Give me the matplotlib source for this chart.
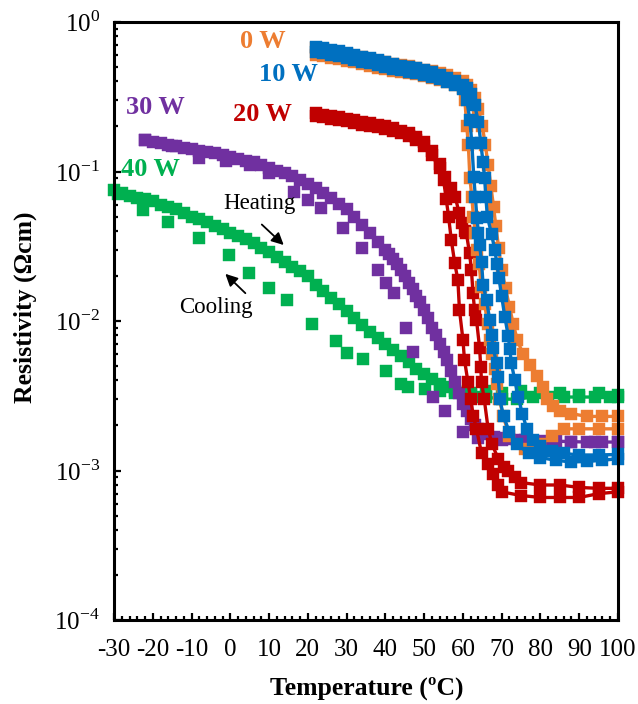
import matplotlib
matplotlib.use("Agg")
import matplotlib.pyplot as plt

plt.rcParams['font.family'] = ['Liberation Serif', 'DejaVu Serif']
plt.rcParams['mathtext.fontset'] = 'custom'
plt.rcParams['mathtext.rm'] = 'Liberation Serif'
plt.rcParams['axes.unicode_minus'] = False

# ---------------- data (temperature in degC, resistivity in Ohm cm) ----------------
# 0 W
w0_heat_T = [22, 24, 26, 28, 30, 32, 34, 36, 38, 40, 42, 44, 46, 48, 50, 52, 54, 56, 58, 60, 61, 62, 63, 64,
             65, 65.8, 66.5, 67.2, 67.9, 68.5, 69.2, 70, 71, 72, 73, 74, 75.5, 77.2, 79, 80.6, 81.8, 83.2,
             85, 88, 92, 96, 100]
w0_heat_R = [0.665, 0.655, 0.64, 0.625, 0.61, 0.595, 0.58, 0.565, 0.55, 0.54, 0.525, 0.515, 0.505, 0.495,
             0.48, 0.47, 0.455, 0.44, 0.42, 0.40, 0.38, 0.35, 0.31, 0.26, 0.20, 0.15, 0.11, 0.08, 0.058,
             0.043, 0.031, 0.022, 0.0165, 0.0125, 0.0095, 0.0075, 0.006, 0.0051, 0.0043, 0.0036, 0.0030,
             0.0027, 0.0025, 0.0024, 0.0023, 0.0023, 0.0023]
w0_cool_T = [22, 24, 26, 28, 30, 32, 34, 36, 38, 40, 42, 44, 46, 48, 50, 52, 54, 56, 58,
             60, 60.5, 61, 61.4, 61.8, 62.3, 62.7, 63.2, 63.7, 64.2, 64.7, 65.6, 66.4, 67, 67.5, 68.3, 68.8,
             69.4, 70.4, 72, 76, 80, 83, 86, 90, 95, 100]
w0_cool_R = [0.599, 0.590, 0.576, 0.563, 0.549, 0.536, 0.522, 0.509, 0.495, 0.486, 0.473, 0.464, 0.455,
             0.446, 0.432, 0.423, 0.410, 0.396, 0.378,
             0.36, 0.30, 0.20, 0.15, 0.09, 0.068, 0.05, 0.039, 0.03, 0.024, 0.017, 0.013, 0.0095, 0.0075,
             0.006, 0.0048, 0.0038, 0.003, 0.0023, 0.0017, 0.0014, 0.0015, 0.0017, 0.0019, 0.0019, 0.0019,
             0.0019]

# 10 W
w10_heat_T = [22, 24, 26, 28, 30, 32, 34, 36, 38, 40, 42, 44, 46, 48, 50, 52, 54, 56, 58, 60, 61, 62, 63, 64,
              64.6, 65.2, 65.6, 65.9, 66.3, 67.4, 68.2, 68.8, 69.3, 70.0, 70.8, 71.7, 72.1, 72.5, 73.4,
              74.3, 75.3, 76.5, 78, 80, 83, 86, 90, 95, 100]
w10_heat_R = [0.68, 0.665, 0.65, 0.635, 0.62, 0.60, 0.585, 0.57, 0.555, 0.54, 0.525, 0.51, 0.50, 0.49,
              0.475, 0.46, 0.445, 0.425, 0.405, 0.38, 0.36, 0.33, 0.28, 0.215, 0.155, 0.115, 0.09, 0.068,
              0.05, 0.038, 0.030, 0.024, 0.0193, 0.0146, 0.0107, 0.0079, 0.0065, 0.0052, 0.0040, 0.0031,
              0.0024, 0.0019, 0.0016, 0.00145, 0.00135, 0.0013, 0.00127, 0.00127, 0.00128]
w10_cool_T = [22, 24, 26, 28, 30, 32, 34, 36, 38, 40, 42, 44, 46, 48, 50, 52, 54, 56, 58,
              60, 61, 61.8, 62.3, 62.8, 63.2, 63.6, 64.0, 64.3, 64.8, 65.2, 66.1, 66.9, 67.4, 67.8, 68.7,
              69.1, 69.5, 70.5, 72, 74, 77, 80, 84, 88, 92, 96, 100]
w10_cool_R = [0.632, 0.618, 0.605, 0.591, 0.577, 0.558, 0.544, 0.530, 0.516, 0.502, 0.488, 0.474, 0.465,
              0.456, 0.442, 0.428, 0.414, 0.395, 0.377,
              0.355, 0.30, 0.22, 0.154, 0.092, 0.068, 0.049, 0.039, 0.032, 0.025, 0.0174, 0.0138, 0.0102,
              0.0081, 0.0066, 0.0052, 0.0042, 0.0030, 0.0023, 0.0018, 0.0015, 0.0013, 0.00122, 0.00117,
              0.00114, 0.00115, 0.00117, 0.0012]

# 20 W
w20_heat_T = [22, 24, 26, 28, 30, 32, 34, 36, 38, 40, 42, 44, 46, 48, 50, 52, 54, 55.5, 57, 58, 59, 59.7,
              60.5, 60.9, 61.7, 62.2, 62.6, 63.0, 63.5, 64.3, 64.6, 64.8, 65.5, 66.5, 67.5, 69.1, 70.5,
              71.7, 73.5, 75, 80, 85, 90, 95, 100]
w20_heat_R = [0.245, 0.24, 0.235, 0.23, 0.225, 0.22, 0.215, 0.21, 0.205, 0.20, 0.195, 0.188, 0.18, 0.17,
              0.157, 0.137, 0.112, 0.092, 0.078, 0.068, 0.053, 0.045, 0.040, 0.0386, 0.0284, 0.0219,
              0.0153, 0.0119, 0.0102, 0.0066, 0.0049, 0.0039, 0.0030, 0.0019, 0.0015, 0.0012, 0.00105,
              0.00099, 0.0009, 0.00083, 0.0008, 0.0008, 0.00077, 0.00076, 0.00076]
w20_cool_T = [22, 24, 26, 28, 30, 32, 34, 36, 38, 40, 42, 44, 46, 48,
              50, 52, 54, 55, 55.7, 56.3, 57.0, 57.9, 58.7, 59.1, 60.0, 60.4, 61.3, 62, 62.7, 63.5, 64.8,
              66.5, 67.8, 69, 70, 75, 80, 85, 90, 95, 100]
w20_cool_R = [0.235, 0.230, 0.226, 0.221, 0.216, 0.211, 0.206, 0.202, 0.197, 0.192, 0.187, 0.180, 0.173,
              0.163,
              0.148, 0.128, 0.105, 0.088, 0.065, 0.05, 0.0348, 0.0243, 0.0188, 0.0119, 0.0075, 0.0055,
              0.0039, 0.0030, 0.0023, 0.0019, 0.0013, 0.0011, 0.00095, 0.0008, 0.00072, 0.00068, 0.00066,
              0.00066, 0.00066, 0.0007, 0.00072]

# 30 W
w30_heat_T = [-22, -20, -18, -16, -14, -12, -10, -8, -6, -4, -2, 0, 2, 4, 6, 8, 10, 12, 14, 16, 18, 20, 22,
              24, 26, 28, 30, 32, 34, 36, 38, 40, 41, 42, 43, 44, 45, 46, 47, 48, 49, 50, 51, 52, 53, 54,
              55, 56, 57, 58, 59, 60, 61, 62, 63, 64, 66, 68, 70, 72, 74, 76, 80, 84, 88, 92, 96, 100]
w30_heat_R = [0.163, 0.158, 0.154, 0.150, 0.147, 0.144, 0.141, 0.138, 0.135, 0.132, 0.128, 0.125, 0.121,
              0.118, 0.115, 0.111, 0.106, 0.101, 0.097, 0.093, 0.088, 0.082, 0.077, 0.072, 0.066, 0.061,
              0.056, 0.050, 0.044, 0.039, 0.034, 0.030, 0.028, 0.026, 0.024, 0.022, 0.020, 0.018, 0.0163,
              0.0148, 0.0133, 0.0118, 0.0104, 0.0090, 0.0080, 0.0070, 0.0062, 0.0055, 0.0046, 0.0039,
              0.0033, 0.0028, 0.0025, 0.0022, 0.0020, 0.0019, 0.00175, 0.00168, 0.00164, 0.00162,
              0.0016, 0.00159, 0.00158, 0.00157, 0.00156, 0.00155, 0.00155, 0.00155]
w30_cool_T = [-22, -15, -8, -1, 5, 10, 16.3, 20, 23.5, 29, 34, 38, 40.2, 42.3, 45.3, 47.1, 52.3, 55.3, 60,
              64, 70, 76, 82, 88, 94, 100]
w30_cool_R = [0.163, 0.148, 0.124, 0.118, 0.110, 0.098, 0.073, 0.064, 0.057, 0.042, 0.031, 0.022, 0.018,
              0.0153, 0.0090, 0.0062, 0.0031, 0.0025, 0.0018, 0.00165, 0.0016, 0.00158, 0.00156, 0.00155,
              0.00155, 0.00155]

# 40 W
w40_heat_T = [-30, -28, -26, -24, -22, -20, -18, -16, -14, -12, -10, -8, -6, -4, -2, 0, 2, 4, 6, 8, 10, 12,
              14, 16, 18, 20, 22, 24, 26, 28, 30, 32, 34, 36, 38, 40, 42, 44, 46, 48, 50, 52, 54, 56, 58,
              60, 62, 64, 66, 70, 74, 78, 82, 86, 90, 94, 98, 100]
w40_heat_R = [0.075, 0.072, 0.069, 0.067, 0.065, 0.063, 0.060, 0.058, 0.056, 0.053, 0.050, 0.048, 0.046,
              0.043, 0.041, 0.039, 0.037, 0.0355, 0.033, 0.031, 0.029, 0.027, 0.025, 0.023, 0.0215, 0.020,
              0.0175, 0.0158, 0.0143, 0.0130, 0.0117, 0.0105, 0.0094, 0.0085, 0.0077, 0.0070, 0.0064,
              0.0058, 0.0053, 0.0048, 0.0044, 0.0041, 0.0038, 0.0036, 0.0034, 0.0033, 0.0032, 0.0031,
              0.0031, 0.0030, 0.0030, 0.0031, 0.0031, 0.0031, 0.0031, 0.0031, 0.0031, 0.0031]
w40_cool_T = [-29, -22.4, -16, -8.2, -0.4, 4.8, 10, 14.7, 21.2, 27.2, 30.2, 34.1, 40.2, 44.1, 45.8, 50.1,
              54, 58, 62, 66, 70, 75, 80, 85, 90, 95, 100]
w40_cool_R = [0.071, 0.055, 0.046, 0.0357, 0.0276, 0.0208, 0.0166, 0.0138, 0.0095, 0.0073, 0.0061, 0.0056,
              0.0046, 0.0038, 0.0036, 0.0035, 0.0034, 0.0033, 0.0033, 0.0034, 0.0033, 0.0034, 0.0033,
              0.0033, 0.0032, 0.0033, 0.0032]

labels = ["0 W", "10 W", "20 W", "30 W", "40 W"]
colors = ["#ED7D31", "#0070C0", "#C00000", "#7030A0", "#00B050"]
x_ticks = [-30, -20, -10, 0, 10, 20, 30, 40, 50, 60, 70, 80, 90, 100]
y_ticks = [1e-4, 1e-3, 1e-2, 1e-1, 1e0]
y_ticklabels = ["10$^{-4}$", "10$^{-3}$", "10$^{-2}$", "10$^{-1}$", "10$^{0}$"]

# ---------------- figure ----------------
fig = plt.figure(figsize=(6.38, 7.04), dpi=100)
W, H = 638, 704
ax = fig.add_axes([114 / W, 1 - 620 / H, 504 / W, 598 / H])

ms = 9.0
series = [
    (w40_heat_T, w40_heat_R, w40_cool_T, w40_cool_R, colors[4], 2, False),
    (w30_heat_T, w30_heat_R, w30_cool_T, w30_cool_R, colors[3], 3, False),
    (w20_heat_T, w20_heat_R, w20_cool_T, w20_cool_R, colors[2], 4, True),
    (w0_heat_T, w0_heat_R, w0_cool_T, w0_cool_R, colors[0], 5, True),
    (w10_heat_T, w10_heat_R, w10_cool_T, w10_cool_R, colors[1], 6, True),
]
for hT, hR, cT, cR, col, z, cool_line in series:
    ax.plot(hT, hR, marker='s', ms=ms, color=col, mec=col, mew=0.3, lw=2.4,
            zorder=z, clip_on=False)
    ax.plot(cT, cR, marker='s', ms=ms, color=col, mec=col, mew=0.3,
            lw=2.4 if cool_line else 0, zorder=z, clip_on=False)

ax.set_yscale('log')
ax.set_xlim(-30, 100)
ax.set_ylim(1e-4, 1)
ax.set_xticks(x_ticks)
ax.set_xticks(list(range(-30, 101, 2)), minor=True)
ax.set_yticks(y_ticks)
ax.set_yticklabels(y_ticklabels)

ax.tick_params(axis='both', which='both', direction='in', top=False, right=False,
               labelsize=18, width=1.6, color='black')
ax.tick_params(axis='both', which='major', length=5)
ax.tick_params(axis='both', which='minor', length=3)
ax.tick_params(axis='x', which='major', pad=14)
ax.tick_params(axis='y', which='major', pad=10)

for s in ax.spines.values():
    s.set_linewidth(2.2)
    s.set_color('black')
    s.set_zorder(10)

ax.set_xlabel("Temperature (ºC)", fontsize=18.5, fontweight='bold', va='center')
ax.xaxis.set_label_coords(0.502, -0.1137)
ax.set_ylabel("Resistivity (Ωcm)", fontsize=18.5, fontweight='bold', va='center')
ax.yaxis.set_label_coords(-0.1766, 0.523)

# series labels
label_pos = [(8.4, 0.735), (15.0, 0.445), (8.3, 0.240), (-19.4, 0.266), (-20.6, 0.103)]
for lab, (lx, ly), col in zip(labels, label_pos, colors):
    ax.text(lx, ly, lab, color=col, fontsize=19, fontweight='bold',
            ha='center', va='center', zorder=12)

# annotations
ax.text(7.4, 0.061, "Heating", fontsize=16.5, ha='center', va='center', zorder=12)
ax.text(-3.6, 0.0124, "Cooling", fontsize=16.5, ha='center', va='center', zorder=12)
ax.annotate("", xy=(14.3, 0.0313), xytext=(7.6, 0.0455),
            arrowprops=dict(arrowstyle='-|>', color='black', lw=1.3, mutation_scale=18),
            zorder=12)
ax.annotate("", xy=(-1.8, 0.0213), xytext=(4.4, 0.0149),
            arrowprops=dict(arrowstyle='-|>', color='black', lw=1.3, mutation_scale=18),
            zorder=12)

fig.savefig("out.png", dpi=100)
